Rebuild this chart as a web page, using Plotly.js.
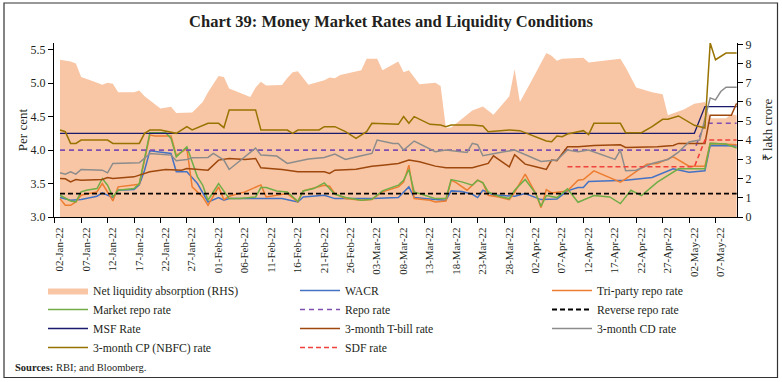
<!DOCTYPE html>
<html><head><meta charset="utf-8">
<script src="https://cdn.plot.ly/plotly-3.0.1.min.js"></script>
<style>html,body{margin:0;padding:0;background:#fff;}#chart{width:782px;height:382px;}</style>
</head><body><div id="chart"></div>
<script>
// ---------------- DATA ----------------
const tickLabels = ['02-Jan-22','07-Jan-22','12-Jan-22','17-Jan-22','22-Jan-22','27-Jan-22',
  '01-Feb-22','06-Feb-22','11-Feb-22','16-Feb-22','21-Feb-22','26-Feb-22',
  '03-Mar-22','08-Mar-22','13-Mar-22','18-Mar-22','23-Mar-22','28-Mar-22',
  '02-Apr-22','07-Apr-22','12-Apr-22','17-Apr-22','22-Apr-22','27-Apr-22',
  '02-May-22','07-May-22'];

// Net liquidity absorption (RHS, lakh crore)
const liqDates = ['1-2','1-4','1-5','1-6','1-8','1-10','1-11','1-12','1-13','1-16','1-17','1-18','1-21','1-23','1-24','1-27','1-29','1-30','2-1','2-2','2-3','2-7','2-8','2-9','2-10','2-13','2-14','2-15','2-16','2-18','2-21','2-22','2-23','2-24','2-28','3-1','3-3','3-4','3-7','3-8','3-9','3-11','3-14','3-15','3-16','3-17','3-21','3-23','3-25','3-28','3-29','3-30','4-1','4-4','4-5','4-6','4-7','4-11','4-12','4-18','4-19','4-21','4-24','4-26','4-27','4-30','5-2','5-4','5-5','5-8','5-9','5-10'];
const liqVals = [8.2,8.1,8.0,7.3,7.1,6.9,7.0,6.95,6.5,6.5,6.6,6.3,5.65,5.75,5.42,5.45,6.0,6.5,7.35,7.3,6.7,6.25,6.75,7.05,6.85,6.88,7.25,7.55,7.6,6.9,7.13,7.27,7.23,7.4,7.65,8.25,8.25,7.65,8.1,7.55,7.65,6.92,7.0,6.83,4.65,4.67,5.55,5.76,5.33,6.3,7.7,6.0,7.0,8.55,8.4,8.15,8.25,8.3,8.05,8.25,7.8,6.75,6.5,6.4,5.3,5.6,5.9,6.0,5.15,5.15,5.35,5.3];

// WACR
const wacrDates = ['1-2','1-4','1-6','1-7','1-9','1-10','1-11','1-12','1-13','1-16','1-17','1-18','1-19','1-21','1-23','1-24','1-26','1-28','1-30','2-1','2-2','2-3','2-8','2-13','2-16','2-17','2-21','2-23','3-2','3-7','3-9','3-10','3-14','3-16','3-17','3-19','3-21','3-22','3-23','3-25','3-29','3-31','4-3','4-6','4-8','4-10','4-11','4-12','4-19','4-24','4-28','5-1','5-4','5-5','5-10'];
const wacrVals = [3.29,3.25,3.26,3.275,3.31,3.36,3.325,3.29,3.40,3.41,3.48,3.70,3.99,3.975,3.95,3.675,3.675,3.50,3.225,3.29,3.25,3.275,3.27,3.275,3.225,3.30,3.325,3.275,3.275,3.29,3.45,3.29,3.26,3.25,3.39,3.38,3.34,3.29,3.40,3.33,3.31,3.35,3.26,3.27,3.39,3.44,3.44,3.53,3.55,3.59,3.72,3.67,3.69,4.07,4.06];

// Tri-party repo rate
const triDates = ['1-2','1-3','1-4','1-5','1-6','1-9','1-10','1-11','1-12','1-13','1-16','1-17','1-18','1-19','1-20','1-23','1-24','1-26','1-27','1-29','1-30','2-1','2-2','2-3','2-6','2-9','2-10','2-14','2-16','2-17','2-21','2-22','2-23','2-25','2-28','3-2','3-4','3-7','3-8','3-9','3-10','3-13','3-14','3-16','3-17','3-18','3-20','3-22','3-23','3-24','3-26','3-28','3-29','3-31','4-2','4-3','4-4','4-5','4-8','4-10','4-11','4-13','4-18','4-19','4-23','4-25','4-28','5-1','5-4','5-5','5-10'];
const triVals = [3.275,3.175,3.175,3.225,3.325,3.375,3.50,3.375,3.24,3.45,3.475,3.49,3.85,4.225,4.21,4.21,3.92,4.02,3.45,3.30,3.175,3.45,3.26,3.31,3.375,3.48,3.30,3.35,3.225,3.39,3.475,3.46,3.35,3.275,3.25,3.26,3.375,3.45,3.52,3.775,3.275,3.25,3.225,3.24,3.55,3.51,3.40,3.55,3.51,3.325,3.30,3.26,3.37,3.64,3.35,3.14,3.41,3.36,3.39,3.55,3.56,3.69,3.52,3.57,3.79,3.80,3.90,3.76,3.76,4.10,4.08];

// Market repo rate
const mktDates = ['1-2','1-4','1-5','1-6','1-7','1-9','1-10','1-11','1-12','1-13','1-16','1-17','1-18','1-19','1-22','1-23','1-24','1-26','1-28','1-29','1-30','2-1','2-3','2-5','2-8','2-9','2-10','2-12','2-14','2-16','2-17','2-19','2-21','2-23','2-25','2-28','3-2','3-4','3-7','3-8','3-9','3-10','3-12','3-14','3-16','3-17','3-19','3-21','3-22','3-23','3-24','3-26','3-28','3-29','3-31','4-2','4-3','4-4','4-6','4-8','4-10','4-13','4-16','4-18','4-20','4-22','4-25','4-29','5-4','5-5','5-8','5-10'];
const mktVals = [3.325,3.24,3.225,3.375,3.40,3.425,3.575,3.475,3.30,3.40,3.425,3.50,3.875,4.26,4.26,4.175,3.90,4.05,3.60,3.475,3.25,3.50,3.275,3.275,3.30,3.44,3.44,3.39,3.375,3.235,3.39,3.425,3.51,3.34,3.29,3.25,3.265,3.39,3.475,3.55,3.71,3.375,3.325,3.275,3.275,3.56,3.525,3.475,3.55,3.51,3.375,3.31,3.275,3.40,3.56,3.35,3.16,3.32,3.29,3.42,3.22,3.32,3.30,3.20,3.40,3.32,3.52,3.72,3.72,4.10,4.09,4.03];

// Policy rates
const repoDates = ['1-2','5-2','5-4','5-10'];
const repoVals = [4.0,4.0,4.4,4.4];
const revRepoDates = ['1-2','5-10'];
const revRepoVals = [3.35,3.35];
const msfDates = ['1-2','5-2','5-4','5-10'];
const msfVals = [4.25,4.25,4.65,4.65];
const sdfDates = ['4-8','5-2','5-4','5-10'];
const sdfVals = [3.75,3.75,4.15,4.15];

// 3-month T-bill rate
const tbillDates = ['1-2','1-3','1-4','1-5','1-6','1-10','1-11','1-12','1-16','1-18','1-19','1-22','1-25','1-26','1-30','2-1','2-3','2-6','2-8','2-9','2-13','2-16','2-21','2-22','2-23','2-27','3-2','3-4','3-7','3-9','3-11','3-14','3-16','3-21','3-23','3-24','3-25','3-28','3-29','3-31','4-2','4-4','4-5','4-6','4-8','4-10','4-13','4-18','4-19','4-22','4-25','4-28','4-29','5-4','5-5','5-9','5-10'];
const tbillVals = [3.575,3.57,3.525,3.56,3.55,3.56,3.59,3.575,3.60,3.65,3.675,3.71,3.70,3.725,3.70,3.85,3.875,3.86,3.875,3.735,3.71,3.675,3.675,3.65,3.70,3.715,3.76,3.775,3.80,3.85,3.825,3.76,3.735,3.735,3.785,3.80,3.915,3.75,3.93,3.79,3.75,3.71,3.85,3.84,4.05,4.05,4.07,4.08,4.04,4.04,4.05,4.07,4.1,4.1,4.52,4.52,4.70];

// 3-month CD rate
const cdDates = ['1-2','1-3','1-4','1-5','1-6','1-10','1-11','1-12','1-17','1-19','1-23','1-24','1-26','1-27','1-30','1-31','2-2','2-3','2-8','2-9','2-12','2-14','2-18','2-21','2-23','2-25','2-28','3-2','3-3','3-6','3-7','3-8','3-10','3-14','3-16','3-20','3-21','3-22','3-23','3-25','3-27','3-29','4-3','4-6','4-8','4-10','4-12','4-17','4-18','4-19','4-21','4-24','4-27','4-29','5-1','5-3','5-5','5-6','5-7','5-8','5-10'];
const cdVals = [3.66,3.64,3.675,3.64,3.71,3.70,3.66,3.80,3.81,3.95,3.925,3.84,3.86,3.885,3.89,3.95,3.85,3.71,4.03,3.925,3.91,3.80,3.865,3.89,3.94,3.86,3.915,3.95,4.15,4.10,4.10,4.0,4.135,3.975,4.0,3.965,4.10,4.08,3.915,3.95,3.975,4.0,3.83,3.85,4.0,3.975,4.0,3.86,4.0,3.69,3.70,3.80,3.86,3.97,4.12,4.15,4.78,4.75,4.875,4.94,4.94];

// 3-month CP (NBFC) rate
const cpDates = ['1-2','1-3','1-4','1-5','1-6','1-11','1-12','1-17','1-18','1-19','1-21','1-23','1-24','1-26','1-27','1-30','2-1','2-2','2-3','2-8','2-9','2-14','2-15','2-16','2-20','2-21','2-23','2-25','2-27','3-1','3-2','3-7','3-8','3-9','3-10','3-13','3-15','3-16','3-17','3-21','3-23','3-24','3-28','3-30','4-1','4-4','4-5','4-6','4-7','4-8','4-11','4-12','4-13','4-18','4-19','4-22','4-24','4-26','4-27','4-29','5-2','5-4','5-5','5-6','5-8','5-10'];
const cpVals = [4.30,4.275,4.10,4.10,4.15,4.15,4.10,4.10,4.25,4.30,4.30,4.26,4.25,4.35,4.30,4.40,4.40,4.335,4.60,4.60,4.30,4.30,4.25,4.30,4.30,4.35,4.35,4.275,4.175,4.275,4.40,4.385,4.50,4.40,4.50,4.385,4.375,4.35,4.375,4.375,4.36,4.275,4.30,4.29,4.225,4.135,4.125,4.21,4.20,4.24,4.29,4.23,4.40,4.40,4.26,4.26,4.35,4.46,4.46,4.51,4.37,4.33,5.6,5.35,5.45,5.45];

// ---------------- RENDER ----------------
function toDate(md){ const p = md.split('-'); return '2022-' + p[0].padStart(2,'0') + '-' + p[1].padStart(2,'0'); }
const MON = {Jan:0,Feb:1,Mar:2,Apr:3,May:4,Jun:5,Jul:6,Aug:7,Sep:8,Oct:9,Nov:10,Dec:11};
function tickPos(lbl){ const p = lbl.split('-'); const dt = new Date(Date.UTC(2000+ +p[2], MON[p[1]], +p[0]-1)); return dt.toISOString().slice(0,10); }

const FONT = 'Liberation Serif, Times New Roman, serif';
const TXT = '#231f20';

function line(name, dates, vals, color, width, dash, leg){
  return {type:'scatter', mode:'lines', name:name, x:dates.map(toDate), y:vals, yaxis:'y2',
    line:{color:color, width:width, dash:dash||'solid'}, hoverinfo:'skip', legend:leg};
}

const traces = [
  {type:'scatter', mode:'lines', name:'Net liquidity absorption (RHS)', x:liqDates.map(toDate), y:liqVals,
   fill:'tozeroy', fillcolor:'#f8c6a5', line:{color:'#f8c6a5', width:0}, yaxis:'y', hoverinfo:'skip', legend:'legend'},
  line('WACR', wacrDates, wacrVals, '#4472c4', 1.5, null, 'legend2'),
  line('Tri-party repo rate', triDates, triVals, '#ed7d31', 1.5, null, 'legend3'),
  line('Market repo rate', mktDates, mktVals, '#70ad47', 1.5, null, 'legend'),
  line('Repo rate', repoDates, repoVals, '#7f4fb0', 1.6, '5px,4px', 'legend2'),
  line('Reverse repo rate', revRepoDates, revRepoVals, '#000000', 1.8, '5px,3px', 'legend3'),
  line('MSF Rate', msfDates, msfVals, '#1b1b6e', 1.3, null, 'legend'),
  line('3-month T-bill rate', tbillDates, tbillVals, '#9e480e', 1.5, null, 'legend2'),
  line('3-month CD rate', cdDates, cdVals, '#8c8c8c', 1.5, null, 'legend3'),
  line('3-month CP (NBFC) rate', cpDates, cpVals, '#997300', 1.5, null, 'legend'),
  line('SDF rate', sdfDates, sdfVals, '#f0413a', 1.6, '5px,3px', 'legend2')
];

const L=54, R=45, T=43, B=165, W=782-L-R, H=382-T-B;
const px = x => (x - L)/W;
const py = y => (T + H - y)/H;

function legendAt(xpix){
  return {orientation:'v', x:px(xpix), xanchor:'left', y:py(276), yanchor:'top',
    font:{family:FONT, size:11.7, color:TXT}, itemwidth:40,
    bgcolor:'rgba(0,0,0,0)', borderwidth:0, traceorder:'normal', tracegroupgap:0};
}

const layout = {
  width:782, height:382, margin:{l:L, r:R, t:T, b:B, pad:0},
  paper_bgcolor:'#ffffff', plot_bgcolor:'#ffffff',
  font:{family:FONT, color:TXT, size:11},
  showlegend:true,
  title:{text:'<b>Chart 39: Money Market Rates and Liquidity Conditions</b>', font:{family:FONT, size:16.5, color:TXT},
    x:0.5, xanchor:'center', y:1-21/382, yanchor:'middle', xref:'container', yref:'container'},
  xaxis:{type:'date', range:['2021-12-31 20:46','2022-05-10 01:40'],
    tickmode:'array', tickvals:tickLabels.map(tickPos), ticktext:tickLabels, tickangle:-90,
    ticklabelshift:5,
    ticks:'outside', ticklen:5, tickcolor:'#000', tickwidth:1,
    showline:true, linecolor:'#000', linewidth:1, showgrid:false, zeroline:false,
    tickfont:{family:FONT, size:11, color:TXT}},
  yaxis:{side:'right', range:[0, 9.07], tickvals:[0,1,2,3,4,5,6,7,8,9],
    ticks:'outside', ticklen:5, tickcolor:'#000', showline:true, linecolor:'#000', linewidth:1,
    showgrid:false, zeroline:false, tickfont:{family:FONT, size:12, color:TXT},
    title:{text:'₹ lakh crore', font:{family:FONT, size:13, color:TXT}, standoff:12}},
  yaxis2:{overlaying:'y', side:'left', range:[3, 5.6], tickvals:[3.0,3.5,4.0,4.5,5.0,5.5], tickformat:'.1f',
    ticks:'outside', ticklen:5, tickcolor:'#000', showline:true, linecolor:'#000', linewidth:1,
    showgrid:false, zeroline:false, tickfont:{family:FONT, size:12, color:TXT},
    title:{text:'Per cent', font:{family:FONT, size:13, color:TXT}, standoff:0}},
  legend: legendAt(43),
  legend2: legendAt(295),
  legend3: legendAt(547),
  annotations:[{xref:'paper', yref:'paper', x:px(13), y:py(367), xanchor:'left', yanchor:'middle',
    text:'<b>Sources:</b> RBI; and Bloomberg.', showarrow:false, font:{family:FONT, size:10.5, color:TXT}}],
  shapes:[{type:'rect', xref:'paper', yref:'paper', x0:px(4), x1:px(777.5), y0:py(377.5), y1:py(3),
    line:{color:'#333', width:1.2}, fillcolor:'rgba(0,0,0,0)', layer:'above'}]
};

Plotly.newPlot('chart', traces, layout, {staticPlot:true, displayModeBar:false});
</script></body></html>
